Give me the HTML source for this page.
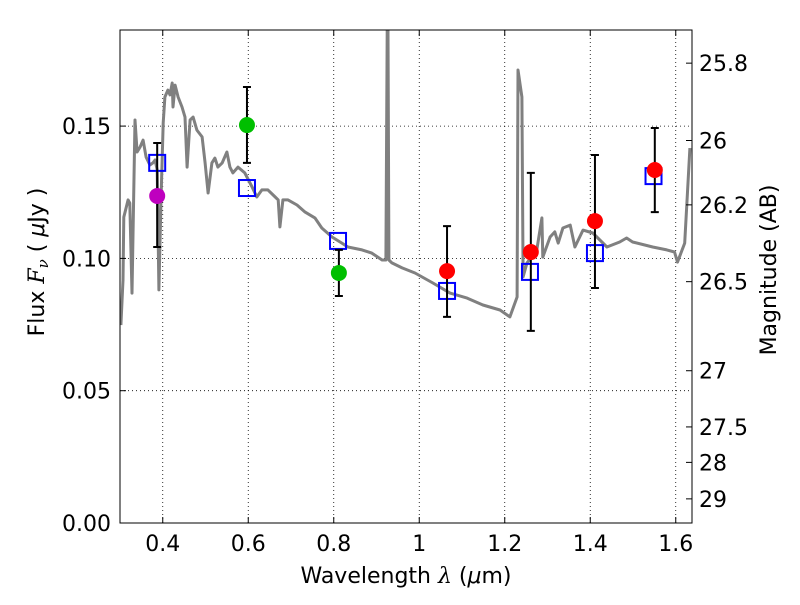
<!DOCTYPE html>
<html><head><meta charset="utf-8"><style>
body{margin:0;background:#fff}
svg text{font-family:"DejaVu Sans","Liberation Sans",sans-serif;fill:#000}
</style></head><body>
<svg id="chart" width="800" height="600" viewBox="0 0 800 600" xmlns="http://www.w3.org/2000/svg"></svg>
<script>
const specLam=[0.302,0.307,0.309,0.319,0.323,0.328,0.335,0.340,0.347,0.354,0.361,0.370,0.377,0.382,0.387,0.391,0.396,0.401,0.405,0.412,0.417,0.422,0.424,0.429,0.436,0.445,0.452,0.457,0.464,0.471,0.480,0.492,0.499,0.506,0.515,0.522,0.529,0.539,0.550,0.557,0.564,0.576,0.592,0.609,0.620,0.632,0.646,0.663,0.670,0.674,0.681,0.693,0.714,0.733,0.756,0.772,0.796,0.819,0.833,0.866,0.889,0.913,0.922,0.925,0.927,0.929,0.936,0.960,0.990,1.032,1.072,1.112,1.149,1.189,1.212,1.229,1.231,1.240,1.243,1.252,1.275,1.287,1.289,1.306,1.317,1.325,1.336,1.353,1.364,1.383,1.406,1.439,1.469,1.485,1.499,1.546,1.579,1.597,1.604,1.621,1.633];
const specFlux=[0.0748,0.0918,0.1156,0.1221,0.1209,0.0869,0.1523,0.1402,0.1421,0.1447,0.1383,0.1353,0.1361,0.1372,0.1334,0.0881,0.1221,0.1512,0.1610,0.1636,0.1618,0.1663,0.1572,0.1655,0.1610,0.1572,0.1534,0.1345,0.1523,0.1534,0.1485,0.1459,0.1361,0.1247,0.1361,0.1379,0.1345,0.1361,0.1402,0.1345,0.1323,0.1345,0.1323,0.1270,0.1232,0.1259,0.1259,0.1232,0.1221,0.1119,0.1221,0.1221,0.1202,0.1175,0.1153,0.1115,0.1081,0.1058,0.1043,0.1032,0.1020,0.0994,0.0994,0.1863,0.1863,0.0994,0.0983,0.0964,0.0945,0.0907,0.0869,0.0850,0.0824,0.0805,0.0779,0.0854,0.1712,0.1610,0.0930,0.0983,0.1032,0.1153,0.1005,0.1081,0.1100,0.1058,0.1115,0.1126,0.1043,0.1107,0.1096,0.1043,0.1062,0.1077,0.1062,0.1043,0.1032,0.1024,0.0986,0.1058,0.1417];
const obsLam=[0.387,0.597,0.812,1.065,1.261,1.411,1.551];
const obsFlux=[0.1236,0.1504,0.0945,0.0952,0.1024,0.1141,0.1334];
const obsLo=[0.1043,0.1361,0.0858,0.0779,0.0726,0.0888,0.1175];
const obsHi=[0.1436,0.1648,0.1032,0.1122,0.1323,0.1391,0.1493];
const obsColor=["#bf00bf","#00bf00","#00bf00","#ff0000","#ff0000","#ff0000","#ff0000"];
const modLam=[0.387,0.597,0.810,1.065,1.259,1.411,1.548];
const modFlux=[0.1361,0.1266,0.1066,0.0877,0.0949,0.1020,0.1311];
const xTicks=[0.4,0.6,0.8,1.0,1.2,1.4,1.6];
const xTickLabels=["0.4","0.6","0.8","1","1.2","1.4","1.6"];
const yTicks=[0,0.05,0.10,0.15];
const yTickLabels=["0.00","0.05","0.10","0.15"];
const magTicks=[25.8,26,26.2,26.5,27,27.5,28,29];
const magLabels=["25.8","26","26.2","26.5","27","27.5","28","29"];

const L=120,R=692,T=30,B=523;
const xmin=0.3,xmax=0.3+(R-L)/427.5,ymin=0,ymax=(B-T)/2646;
const X=v=>L+(v-xmin)/(xmax-xmin)*(R-L);
const Y=v=>B-(v-ymin)/(ymax-ymin)*(B-T);
const magToFlux=m=>3631*Math.pow(10,-0.4*m)*1e6;
const svg=document.getElementById('chart');
const NS='http://www.w3.org/2000/svg';
function mk(tag,attrs,parent){const e=document.createElementNS(NS,tag);for(const k in attrs)e.setAttribute(k,attrs[k]);(parent||svg).appendChild(e);return e;}

xTicks.forEach((t,i)=>{
 const g=mk('line',{x1:X(t),x2:X(t),y1:T,y2:B,stroke:'#000','stroke-width':0.8,'stroke-dasharray':'1,3'});
 
 
});
yTicks.forEach(t=>{
 const g=mk('line',{x1:L,x2:R,y1:Y(t),y2:Y(t),stroke:'#000','stroke-width':0.8,'stroke-dasharray':'1,3'});
 
 
});

const pts=specLam.map((l,i)=>X(l).toFixed(1)+','+Y(specFlux[i]).toFixed(1)).join(' ');
const cp=mk('clipPath',{id:'clip'});mk('rect',{x:L,y:T,width:R-L,height:B-T},cp);
const sp=mk('polyline',{points:pts,fill:'none',stroke:'#808080','stroke-width':3,'stroke-linejoin':'round','clip-path':'url(#clip)'});



modLam.forEach((l,i)=>{
 const s=mk('rect',{x:X(l)-8,y:Y(modFlux[i])-8,width:16,height:16,fill:'none',stroke:'#0000ff','stroke-width':2});
 
 
});
obsLam.forEach((l,i)=>{
 const x=X(l);
 const e=mk('path',{d:`M${x},${Y(obsLo[i])}V${Y(obsHi[i])}M${x-4},${Y(obsLo[i])}h8M${x-4},${Y(obsHi[i])}h8`,stroke:'#000','stroke-width':2,fill:'none'});
 
 
 const c=mk('circle',{cx:x,cy:Y(obsFlux[i]),r:8,fill:obsColor[i]});
 
 
});

const fr=mk('rect',{x:L,y:T,width:R-L,height:B-T,fill:'none',stroke:'#000','stroke-width':1});



xTicks.forEach((t,i)=>{
 mk('path',{d:`M${X(t)},${B}v-6M${X(t)},${T}v6`,stroke:'#000','stroke-width':1});
 const tx=mk('text',{x:X(t),y:B+28,'text-anchor':'middle','font-size':22});
 tx.textContent=xTickLabels[i];
 
 
});
yTicks.forEach((t,i)=>{
 mk('path',{d:`M${L},${Y(t)}h6`,stroke:'#000','stroke-width':1});
 const tx=mk('text',{x:L-9,y:Y(t)+8,'text-anchor':'end','font-size':22});
 tx.textContent=yTickLabels[i];
 
 
});
magTicks.forEach((m,i)=>{
 const y=Y(magToFlux(m));
 mk('path',{d:`M${R},${y}h-6`,stroke:'#000','stroke-width':1});
 const tx=mk('text',{x:R+7,y:y+8,'text-anchor':'start','font-size':22});
 tx.textContent=magLabels[i];
 
 
});
</script>
<svg style="position:absolute;left:0;top:0" width="800" height="600">
<text x="406" y="583" text-anchor="middle" font-size="22" style="font-family:'DejaVu Sans',sans-serif">Wavelength  <tspan font-style="italic" font-family="DejaVu Serif,serif">λ</tspan> (<tspan font-style="italic">μ</tspan>m)</text>
<text transform="translate(44,262) rotate(-90)" text-anchor="middle" font-size="22" style="font-family:'DejaVu Sans',sans-serif">Flux  <tspan font-style="italic" font-family="DejaVu Serif,serif">F<tspan font-size="15" dy="4">ν</tspan></tspan><tspan dy="-4">  (  </tspan><tspan font-style="italic">μ</tspan>Jy )</text>
<text transform="translate(776,270) rotate(-90)" text-anchor="middle" font-size="22" style="font-family:'DejaVu Sans',sans-serif">Magnitude (AB)</text>
</svg>
</body></html>
